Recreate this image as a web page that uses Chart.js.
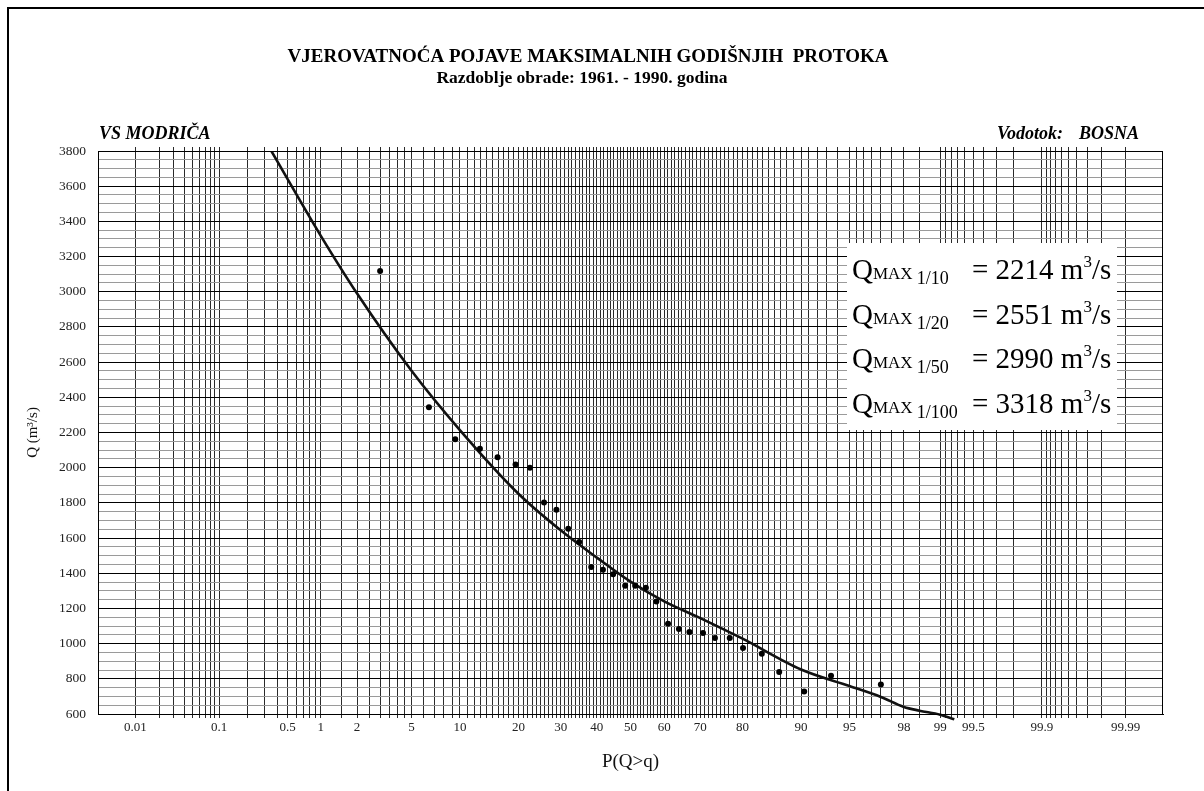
<!DOCTYPE html>
<html><head><meta charset="utf-8">
<script src="https://cdn.jsdelivr.net/npm/chart.js@4/dist/chart.umd.min.js"></script>
<style>html,body{margin:0;padding:0;background:#fff}#wrap{width:1204px;height:791px;position:relative}</style>
</head><body><div id="wrap"><canvas id="c" width="1204" height="791"></canvas></div>
<script>
// ---------- texts ----------
const titleText = 'VJEROVATNOĆA POJAVE MAKSIMALNIH GODIŠNJIH  PROTOKA';
const subtitleText = 'Razdoblje obrade: 1961. - 1990. godina';
const stationText = 'VS MODRIČA';
const riverLabel = 'Vodotok:';
const riverName = 'BOSNA';
const xAxisTitle = 'P(Q>q)';
const yAxisTitle = 'Q (m³/s)';

// ---------- axis definitions ----------
const probLabels = [0.01, 0.1, 0.5, 1, 2, 5, 10, 20, 30, 40, 50, 60, 70, 80, 90, 95, 98, 99, 99.5, 99.9, 99.99];
// [from, to, step] of the probability-paper grid lines (percent)
const gridSegments = [[0.01, 0.1, 0.01], [0.1, 1, 0.1], [1, 5, 0.5], [5, 10, 1], [10, 90, 1], [90, 95, 1], [95, 99, 0.5], [99, 99.9, 0.1], [99.9, 99.99, 0.01]];
const yMin = 600, yMax = 3800, yMinorStep = 50, yLabelStep = 200;

// ---------- data ----------
const obsP = [3.0, 6.5, 9.4, 12.9, 15.9, 19.4, 22.5, 25.8, 28.9, 32.0, 35.0, 38.4, 41.8, 44.8, 48.4, 51.4, 54.6, 57.7, 61.1, 64.2, 67.1, 70.7, 73.7, 77.2, 80.1, 83.8, 86.8, 90.4, 93.4, 97.0];
const obsQ = [3118, 2344, 2162, 2107, 2060, 2018, 1999, 1802, 1761, 1653, 1577, 1435, 1420, 1395, 1329, 1329, 1318, 1240, 1113, 1083, 1066, 1060, 1032, 1032, 975, 943, 839, 728, 818, 767];
const curveP = [0.25, 0.33, 0.5, 1, 2, 5, 10, 20, 30, 40, 50, 60, 70, 80, 90, 95, 97, 98, 98.5, 99, 99.25];
const curveQ = [3940, 3824, 3640, 3318, 2990, 2551, 2214, 1852, 1644, 1489, 1352, 1240, 1145, 1028, 853, 759, 697, 640, 619, 596, 570];
const qmaxPeriods = ['1/10', '1/20', '1/50', '1/100'];
const qmaxValues = [2214, 2551, 2990, 3318];

// ---------- helpers ----------
function probit(p) {
  const a = [-3.969683028665376e+01, 2.209460984245205e+02, -2.759285104469687e+02, 1.383577518672690e+02, -3.066479806614716e+01, 2.506628277459239e+00];
  const b = [-5.447609879822406e+01, 1.615858368580409e+02, -1.556989798598866e+02, 6.680131188771972e+01, -1.328068155288572e+01];
  const c = [-7.784894002430293e-03, -3.223964580411365e-01, -2.400758277161838e+00, -2.549671291049770e+00, 4.374664141464968e+00, 2.938163982698783e+00];
  const d = [7.784695709041462e-03, 3.224671290700398e-01, 2.445134137142996e+00, 3.754408661907416e+00];
  const pl = 0.02425, ph = 1 - pl; let q, r;
  if (p < pl) { q = Math.sqrt(-2 * Math.log(p)); return (((((c[0]*q+c[1])*q+c[2])*q+c[3])*q+c[4])*q+c[5]) / ((((d[0]*q+d[1])*q+d[2])*q+d[3])*q+1); }
  if (p <= ph) { q = p - 0.5; r = q*q; return (((((a[0]*r+a[1])*r+a[2])*r+a[3])*r+a[4])*r+a[5])*q / (((((b[0]*r+b[1])*r+b[2])*r+b[3])*r+b[4])*r+1); }
  q = Math.sqrt(-2 * Math.log(1 - p)); return -(((((c[0]*q+c[1])*q+c[2])*q+c[3])*q+c[4])*q+c[5]) / ((((d[0]*q+d[1])*q+d[2])*q+d[3])*q+1);
}
const z = p => probit(p / 100);

const gridProbs = [];
gridSegments.forEach(([from, to, step], si) => {
  const n = Math.round((to - from) / step);
  for (let k = (si === 0 ? 0 : 1); k <= n; k++) gridProbs.push(Math.round((from + k * step) * 100) / 100);
});
const gridZ = gridProbs.map(z);
const gridLabels = gridProbs.map(p => probLabels.includes(p) ? String(p) : '');
const yGrid = [];
for (let v = yMin; v <= yMax; v += yMinorStep) yGrid.push(v);

const SERIF = '"Liberation Serif", "Times New Roman", serif';

// ---------- decorations plugin ----------
const decor = {
  id: 'decor',
  beforeDraw(chart) {
    const ctx = chart.ctx;
    ctx.save();
    ctx.fillStyle = '#fff'; ctx.fillRect(0, 0, chart.width, chart.height);
    ctx.fillStyle = '#000';
    ctx.fillRect(7, 7, chart.width - 7, 2);
    ctx.fillRect(7, 7, 2, chart.height - 7);
    ctx.restore();
  },
  afterDraw(chart) {
    const ctx = chart.ctx, ca = chart.chartArea;
    ctx.save();
    // frame of plot area
    ctx.strokeStyle = '#000'; ctx.lineWidth = 1;
    ctx.strokeRect(Math.round(ca.left) + 0.5, Math.round(ca.top) + 0.5, Math.round(ca.right - ca.left) - 1, Math.round(ca.bottom - ca.top));
    // titles
    ctx.fillStyle = '#000'; ctx.textBaseline = 'alphabetic'; ctx.textAlign = 'center';
    ctx.font = 'bold 19px ' + SERIF;
    ctx.fillText(titleText, 588, 62);
    ctx.font = 'bold 17.5px ' + SERIF;
    ctx.fillText(subtitleText, 582, 83);
    ctx.font = 'italic bold 18px ' + SERIF;
    ctx.textAlign = 'left';
    ctx.fillText(stationText, ca.left + 1, ca.top - 12);
    ctx.textAlign = 'right';
    const rx = ca.right - 24;
    ctx.fillText(riverName, rx, ca.top - 12);
    const bw = ctx.measureText(riverName).width;
    ctx.fillText(riverLabel, rx - bw - 16, ca.top - 12);
    // Qmax box
    const bx = ca.right - 316, by = ca.top + 92, bwid = 270, bh = 187;
    ctx.fillStyle = '#fff'; ctx.fillRect(bx, by, bwid, bh);
    ctx.fillStyle = '#000'; ctx.textAlign = 'left';
    qmaxPeriods.forEach((per, i) => {
      const y = by + 36 + i * 44.7;
      let x = bx + 5;
      ctx.font = '29px ' + SERIF; ctx.fillText('Q', x, y); x += ctx.measureText('Q').width;
      ctx.font = '17px ' + SERIF; ctx.fillText('MAX', x, y); x += ctx.measureText('MAX ').width;
      ctx.font = '18px ' + SERIF; ctx.fillText(per, x, y + 5);
      x = bx + 125;
      ctx.font = '29px ' + SERIF; const s = '= ' + qmaxValues[i] + ' m';
      ctx.fillText(s, x, y); x += ctx.measureText(s).width;
      ctx.font = '17px ' + SERIF; ctx.fillText('3', x, y - 12); x += ctx.measureText('3').width;
      ctx.font = '29px ' + SERIF; ctx.fillText('/s', x, y);
    });
    ctx.restore();
  }
};

const setXTicks = s => { s.ticks = gridZ.map(v => ({ value: v })); };

new Chart(document.getElementById('c'), {
  type: 'scatter',
  data: {
    datasets: [
      {
        label: 'curve', data: curveP.map((p, i) => ({ x: z(p), y: curveQ[i] })),
        showLine: true, pointRadius: 0, borderColor: '#111', borderWidth: 2.6,
        cubicInterpolationMode: 'monotone', clip: { left: 0, top: 0, right: 0, bottom: 8 }, order: 2
      },
      {
        label: 'obs', data: obsP.map((p, i) => ({ x: z(p), y: obsQ[i] })),
        showLine: false, pointRadius: 3, pointBackgroundColor: '#000', pointBorderColor: '#000', pointBorderWidth: 0, order: 1
      }
    ]
  },
  options: {
    responsive: false, animation: false, devicePixelRatio: 1,
    layout: { padding: { left: 0, right: 41, top: 147, bottom: 0 } },
    plugins: { legend: { display: false }, tooltip: { enabled: false } },
    scales: {
      x: {
        type: 'linear', position: 'bottom', min: -4, max: 4,
        afterBuildTicks: setXTicks, afterFit: s => { s.height = 77; },
        grid: { color: '#2a2a2a', lineWidth: 1, tickLength: 4, drawTicks: true },
        border: { display: true, color: '#000', width: 1 },
        ticks: { autoSkip: false, maxRotation: 0, minRotation: 0, padding: 2, font: { family: SERIF, size: 13 }, color: '#222', callback: (v, i) => gridLabels[i] },
        title: { display: true, text: xAxisTitle, font: { family: SERIF, size: 19 }, color: '#111', padding: { top: 0, bottom: 18 } }
      },
      x2: {
        type: 'linear', position: 'top', min: -4, max: 4,
        afterBuildTicks: setXTicks, afterFit: s => { s.height = 4; },
        grid: { drawOnChartArea: false, color: '#2a2a2a', lineWidth: 1, tickLength: 4 },
        border: { display: false }, ticks: { display: false }
      },
      y: {
        type: 'linear', min: yMin, max: yMax,
        afterBuildTicks: s => { s.ticks = yGrid.map(v => ({ value: v })); }, afterFit: s => { s.width = 98; },
        grid: { color: c => (c.tick && c.tick.value % yLabelStep === 0) ? '#000' : '#9a9a9a', lineWidth: 1, drawTicks: false },
        border: { display: true, color: '#000', width: 1 },
        ticks: { autoSkip: false, padding: 12, font: { family: SERIF, size: 13.5 }, color: '#222', callback: v => (v % yLabelStep === 0 ? String(v) : '') },
        title: { display: true, text: yAxisTitle, font: { family: SERIF, size: 15 }, color: '#111', padding: { top: 24, bottom: 0 } }
      }
    }
  },
  plugins: [decor]
});
</script></body></html>
